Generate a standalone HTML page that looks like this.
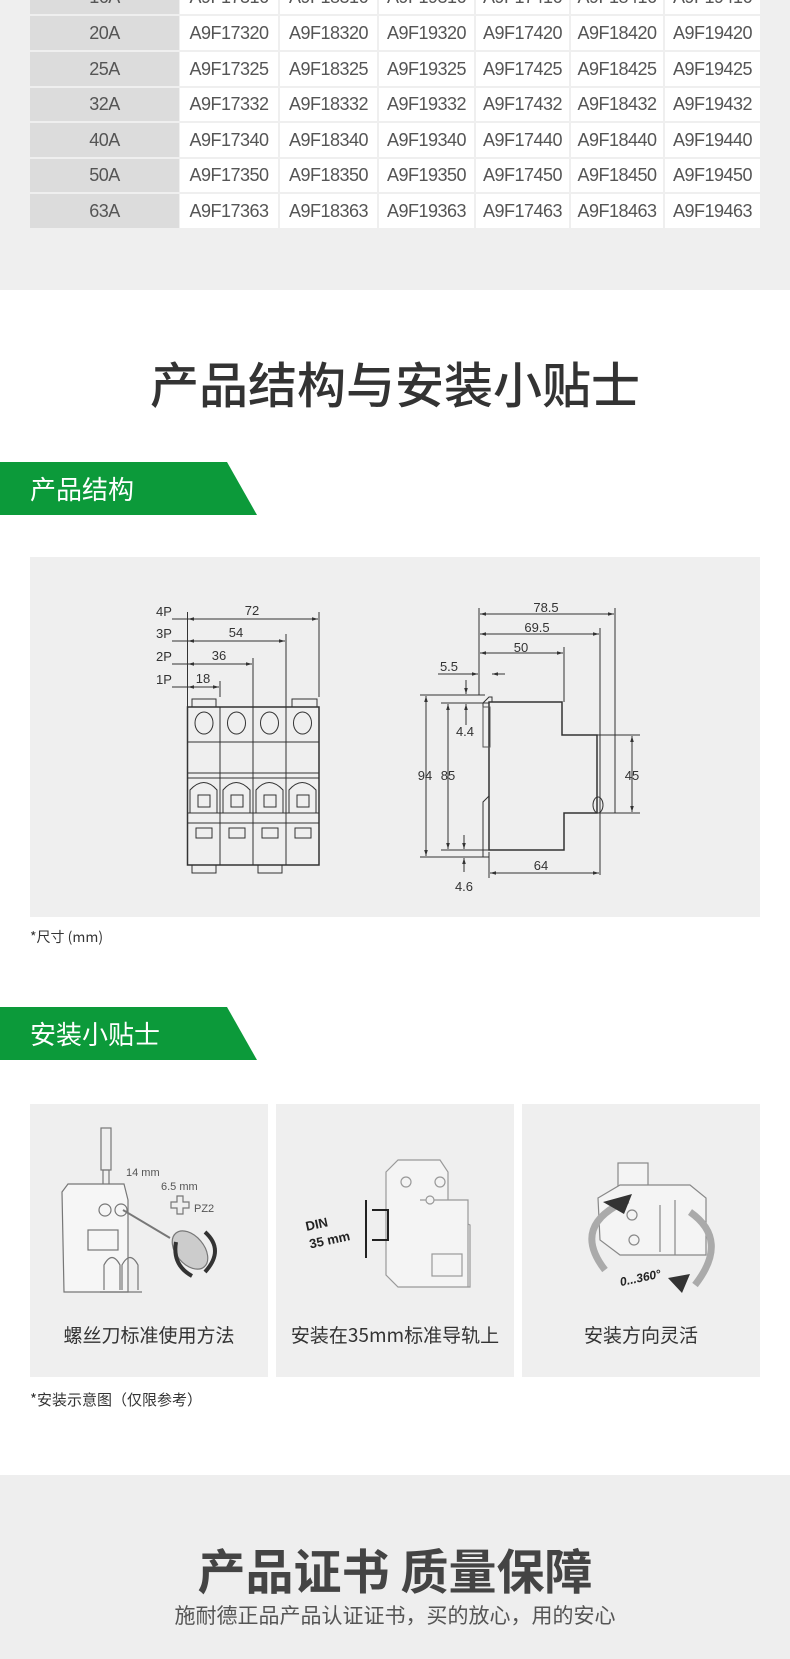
<!DOCTYPE html>
<html><head><meta charset="utf-8"><style>
*{margin:0;padding:0;box-sizing:border-box}
body{width:790px;height:1659px;position:relative;background:#fff;font-family:"Liberation Sans","Noto Sans CJK SC",sans-serif;overflow:hidden;color:#333}
.abs{position:absolute}
.top{left:0;top:0;width:790px;height:290px;background:#efefef}
.c{position:absolute;display:flex;align-items:center;justify-content:center;font-family:"Liberation Sans Narrow","Liberation Sans",sans-serif;font-size:18px;color:#555;letter-spacing:-0.5px}
.h{background:#dcdcdc}
.w{background:#fff}
.tab{position:absolute;left:0;width:257px;height:53px;background:#0c9a3a;clip-path:polygon(0 0,227px 0,257px 100%,0 100%);color:#fff;font-size:26px;line-height:53px;padding-left:30px;font-family:"Noto Sans CJK SC",sans-serif}
.card{position:absolute;top:1104px;width:238px;height:273px;background:#efefef}
.lbl{position:absolute;left:0;right:0;top:217px;text-align:center;font-size:19px;color:#333;font-family:"Noto Sans CJK SC",sans-serif}
</style></head><body>
<div class="abs top"></div>
<div class="c h" style="left:30px;top:-20px;width:149px;height:34px">16A</div>
<div class="c w" style="left:180px;top:-20px;width:98px;height:34px">A9F17316</div>
<div class="c w" style="left:280px;top:-20px;width:97px;height:34px">A9F18316</div>
<div class="c w" style="left:379px;top:-20px;width:95px;height:34px">A9F19316</div>
<div class="c w" style="left:476px;top:-20px;width:93px;height:34px">A9F17416</div>
<div class="c w" style="left:571px;top:-20px;width:92px;height:34px">A9F18416</div>
<div class="c w" style="left:665px;top:-20px;width:95px;height:34px">A9F19416</div>

<div class="c h" style="left:30px;top:16px;width:149px;height:34px">20A</div>
<div class="c w" style="left:180px;top:16px;width:98px;height:34px">A9F17320</div>
<div class="c w" style="left:280px;top:16px;width:97px;height:34px">A9F18320</div>
<div class="c w" style="left:379px;top:16px;width:95px;height:34px">A9F19320</div>
<div class="c w" style="left:476px;top:16px;width:93px;height:34px">A9F17420</div>
<div class="c w" style="left:571px;top:16px;width:92px;height:34px">A9F18420</div>
<div class="c w" style="left:665px;top:16px;width:95px;height:34px">A9F19420</div>

<div class="c h" style="left:30px;top:52px;width:149px;height:34px">25A</div>
<div class="c w" style="left:180px;top:52px;width:98px;height:34px">A9F17325</div>
<div class="c w" style="left:280px;top:52px;width:97px;height:34px">A9F18325</div>
<div class="c w" style="left:379px;top:52px;width:95px;height:34px">A9F19325</div>
<div class="c w" style="left:476px;top:52px;width:93px;height:34px">A9F17425</div>
<div class="c w" style="left:571px;top:52px;width:92px;height:34px">A9F18425</div>
<div class="c w" style="left:665px;top:52px;width:95px;height:34px">A9F19425</div>

<div class="c h" style="left:30px;top:88px;width:149px;height:33px">32A</div>
<div class="c w" style="left:180px;top:88px;width:98px;height:33px">A9F17332</div>
<div class="c w" style="left:280px;top:88px;width:97px;height:33px">A9F18332</div>
<div class="c w" style="left:379px;top:88px;width:95px;height:33px">A9F19332</div>
<div class="c w" style="left:476px;top:88px;width:93px;height:33px">A9F17432</div>
<div class="c w" style="left:571px;top:88px;width:92px;height:33px">A9F18432</div>
<div class="c w" style="left:665px;top:88px;width:95px;height:33px">A9F19432</div>

<div class="c h" style="left:30px;top:123px;width:149px;height:34px">40A</div>
<div class="c w" style="left:180px;top:123px;width:98px;height:34px">A9F17340</div>
<div class="c w" style="left:280px;top:123px;width:97px;height:34px">A9F18340</div>
<div class="c w" style="left:379px;top:123px;width:95px;height:34px">A9F19340</div>
<div class="c w" style="left:476px;top:123px;width:93px;height:34px">A9F17440</div>
<div class="c w" style="left:571px;top:123px;width:92px;height:34px">A9F18440</div>
<div class="c w" style="left:665px;top:123px;width:95px;height:34px">A9F19440</div>

<div class="c h" style="left:30px;top:159px;width:149px;height:33px">50A</div>
<div class="c w" style="left:180px;top:159px;width:98px;height:33px">A9F17350</div>
<div class="c w" style="left:280px;top:159px;width:97px;height:33px">A9F18350</div>
<div class="c w" style="left:379px;top:159px;width:95px;height:33px">A9F19350</div>
<div class="c w" style="left:476px;top:159px;width:93px;height:33px">A9F17450</div>
<div class="c w" style="left:571px;top:159px;width:92px;height:33px">A9F18450</div>
<div class="c w" style="left:665px;top:159px;width:95px;height:33px">A9F19450</div>

<div class="c h" style="left:30px;top:194px;width:149px;height:34px">63A</div>
<div class="c w" style="left:180px;top:194px;width:98px;height:34px">A9F17363</div>
<div class="c w" style="left:280px;top:194px;width:97px;height:34px">A9F18363</div>
<div class="c w" style="left:379px;top:194px;width:95px;height:34px">A9F19363</div>
<div class="c w" style="left:476px;top:194px;width:93px;height:34px">A9F17463</div>
<div class="c w" style="left:571px;top:194px;width:92px;height:34px">A9F18463</div>
<div class="c w" style="left:665px;top:194px;width:95px;height:34px">A9F19463</div>

<div class="abs" style="left:0;top:353px;width:790px;text-align:center;font-size:49px;color:#333;font-family:'Noto Sans CJK SC',sans-serif;line-height:60px;font-weight:500">产品结构与安装小贴士</div>

<div class="tab" style="top:462px">产品结构</div>
<div class="abs" style="left:30px;top:557px;width:730px;height:360px;background:#efefef"></div>
<div class="abs" style="left:30px;top:927px;font-size:14px;color:#333;font-family:'Noto Sans CJK SC',sans-serif">*尺寸 (mm)</div>

<div class="tab" style="top:1007px">安装小贴士</div>

<div class="card" style="left:30px"><div class="lbl">螺丝刀标准使用方法</div></div>
<div class="card" style="left:276px"><div class="lbl">安装在35mm标准导轨上</div></div>
<div class="card" style="left:522px"><div class="lbl">安装方向灵活</div></div>
<div class="abs" style="left:30px;top:1389px;font-size:15px;color:#333;font-family:'Noto Sans CJK SC',sans-serif">*安装示意图（仅限参考）</div>

<div class="abs" style="left:0;top:1475px;width:790px;height:184px;background:#eeeeee"></div>
<div class="abs" style="left:0;top:1538px;width:790px;text-align:center;font-size:48px;font-weight:bold;color:#444;font-family:'Noto Sans CJK SC',sans-serif;line-height:60px">产品证书 质量保障</div>
<div class="abs" style="left:0;top:1601px;width:790px;text-align:center;font-size:21px;color:#555;font-family:'Noto Sans CJK SC',sans-serif;line-height:28px">施耐德正品产品认证证书，买的放心，用的安心</div>

<svg class="abs" style="left:0;top:0" width="790" height="1659" viewBox="0 0 790 1659" font-family="Liberation Sans Narrow,Liberation Sans,sans-serif" fill="none" stroke="#333" stroke-width="1">
<defs><marker id="a" viewBox="0 0 10 10" refX="10" refY="5" markerWidth="6" markerHeight="6" orient="auto-start-reverse"><path d="M0,2 L10,5 L0,8z" fill="#333" stroke="none"/></marker></defs>
<!-- front view -->
<rect x="187.5" y="707" width="131.5" height="158" stroke-width="1.5"/>
<line x1="220" y1="707" x2="220" y2="865"/><line x1="253" y1="707" x2="253" y2="865"/><line x1="286" y1="707" x2="286" y2="865"/>
<line x1="187" y1="742" x2="319" y2="742"/><line x1="187" y1="773" x2="319" y2="773"/><line x1="187" y1="778" x2="319" y2="778"/>
<line x1="187" y1="813" x2="319" y2="813"/><line x1="187" y1="823" x2="319" y2="823"/>
<ellipse cx="204" cy="723" rx="9" ry="11"/><ellipse cx="236.5" cy="723" rx="9" ry="11"/><ellipse cx="269.5" cy="723" rx="9" ry="11"/><ellipse cx="302.5" cy="723" rx="9" ry="11"/>
<path d="M190,813 V790 Q204,775 217,790 V813 M223,813 V790 Q236,775 250,790 V813 M256,813 V790 Q269,775 283,790 V813 M289,813 V790 Q302,775 316,790 V813"/>
<rect x="196" y="828" width="16" height="10"/><rect x="229" y="828" width="16" height="10"/><rect x="262" y="828" width="16" height="10"/><rect x="295" y="828" width="16" height="10"/>
<rect x="198" y="795" width="12" height="12"/><rect x="231" y="795" width="12" height="12"/><rect x="264" y="795" width="12" height="12"/><rect x="297" y="795" width="12" height="12"/>
<path d="M192,707 V699 H216 V707 M292,707 V699 H317 V707 M192,865 V873 H216 V865 M258,865 V873 H282 V865"/>
<line x1="187.5" y1="612" x2="187.5" y2="707"/><line x1="319" y1="612" x2="319" y2="697"/><line x1="286" y1="634" x2="286" y2="707"/><line x1="253" y1="658" x2="253" y2="707"/><line x1="220" y1="681" x2="220" y2="697"/>
<line x1="172" y1="619" x2="187" y2="619"/><line x1="188" y1="619" x2="318" y2="619" marker-start="url(#a)" marker-end="url(#a)"/>
<line x1="172" y1="641" x2="187" y2="641"/><line x1="188" y1="641" x2="285" y2="641" marker-start="url(#a)" marker-end="url(#a)"/>
<line x1="172" y1="664" x2="187" y2="664"/><line x1="188" y1="664" x2="252" y2="664" marker-start="url(#a)" marker-end="url(#a)"/>
<line x1="172" y1="687" x2="187" y2="687"/><line x1="188" y1="687" x2="219" y2="687" marker-start="url(#a)" marker-end="url(#a)"/>
<g fill="#333" stroke="none" font-size="13">
<text x="156" y="616">4P</text><text x="156" y="638">3P</text><text x="156" y="661">2P</text><text x="156" y="684">1P</text>
<text x="252" y="615" text-anchor="middle">72</text><text x="236" y="637" text-anchor="middle">54</text><text x="219" y="660" text-anchor="middle">36</text><text x="203" y="683" text-anchor="middle">18</text>
</g>
<!-- side view -->
<path d="M489,702 H562 V735 H597 V813 H564 V850 H489 Z" stroke-width="1.5"/>
<path d="M483,857 V802 L489,796 M483,745 V703 L489,697 H492 V702" />
<rect x="483" y="707" width="7" height="40" stroke="#555"/>
<ellipse cx="598" cy="805" rx="5" ry="8"/>
<line x1="479" y1="608" x2="479" y2="695"/><line x1="615" y1="608" x2="615" y2="813"/><line x1="600" y1="628" x2="600" y2="875"/><line x1="564" y1="647" x2="564" y2="702"/>
<line x1="480" y1="614" x2="614" y2="614" marker-start="url(#a)" marker-end="url(#a)"/>
<line x1="480" y1="634" x2="599" y2="634" marker-start="url(#a)" marker-end="url(#a)"/>
<line x1="480" y1="653" x2="563" y2="653" marker-start="url(#a)" marker-end="url(#a)"/>
<line x1="438" y1="674" x2="478" y2="674" marker-end="url(#a)"/><line x1="505" y1="674" x2="492" y2="674" marker-end="url(#a)"/>
<line x1="420" y1="695" x2="485" y2="695"/><line x1="441" y1="703" x2="489" y2="703"/>
<line x1="420" y1="857" x2="489" y2="857"/><line x1="441" y1="850" x2="489" y2="850"/>
<line x1="426" y1="696" x2="426" y2="856" marker-start="url(#a)" marker-end="url(#a)"/>
<line x1="448" y1="704" x2="448" y2="849" marker-start="url(#a)" marker-end="url(#a)"/>
<line x1="466" y1="680" x2="466" y2="694" marker-end="url(#a)"/><line x1="466" y1="725" x2="466" y2="704" marker-end="url(#a)"/>
<line x1="464" y1="835" x2="464" y2="849" marker-end="url(#a)"/><line x1="464" y1="872" x2="464" y2="858" marker-end="url(#a)"/>
<line x1="597" y1="735" x2="640" y2="735"/><line x1="597" y1="813" x2="640" y2="813"/>
<line x1="632" y1="736" x2="632" y2="812" marker-start="url(#a)" marker-end="url(#a)"/>
<line x1="489" y1="852" x2="489" y2="878"/>
<line x1="490" y1="873" x2="599" y2="873" marker-start="url(#a)" marker-end="url(#a)"/>
<g fill="#333" stroke="none" font-size="13">
<text x="546" y="612" text-anchor="middle">78.5</text><text x="537" y="632" text-anchor="middle">69.5</text><text x="521" y="652" text-anchor="middle">50</text>
<text x="449" y="671" text-anchor="middle">5.5</text><text x="465" y="736" text-anchor="middle">4.4</text><text x="464" y="891" text-anchor="middle">4.6</text>
<text x="425" y="780" text-anchor="middle">94</text><text x="448" y="780" text-anchor="middle">85</text><text x="632" y="780" text-anchor="middle">45</text><text x="541" y="870" text-anchor="middle">64</text>
</g>
<!-- card 1 icon -->
<g stroke="#777" stroke-width="1.2">
<rect x="101" y="1128" width="10" height="42"/><rect x="103" y="1170" width="6" height="18"/>
<path d="M62,1192 L68,1184 H124 L128,1200 V1292 H64 Z" fill="#f6f6f6"/>
<circle cx="105" cy="1210" r="6"/><circle cx="121" cy="1210" r="6"/>
<rect x="88" y="1230" width="30" height="20"/>
<path d="M104,1290 V1265 Q112,1250 120,1265 V1290 M122,1290 V1265 Q130,1250 138,1265 V1290 M100,1292 h42"/>
<line x1="123" y1="1210" x2="170" y2="1238" stroke-width="2"/>
<ellipse cx="190" cy="1250" rx="14" ry="22" transform="rotate(-40 190 1250)" fill="#ccc"/>
<path d="M205,1232 Q225,1250 205,1272 M176,1242 Q172,1265 192,1276" stroke="#333" stroke-width="4"/>
<path d="M177,1196 v6 h-6 v6 h6 v6 h6 v-6 h6 v-6 h-6 v-6z"/>
</g>
<g fill="#555" stroke="none" font-size="11" font-family="Liberation Sans,sans-serif"><text x="126" y="1176">14 mm</text><text x="161" y="1190">6.5 mm</text><text x="196" y="1272" dx="-2" dy="-60">PZ2</text></g>
<!-- card 2 icon -->
<g stroke="#999" stroke-width="1.2" fill="#f4f4f4">
<path d="M386,1172 L398,1160 H440 L448,1172 V1215 L470,1225 V1287 H398 L386,1275 Z"/>
<path d="M420,1200 H468 V1287"/><circle cx="406" cy="1182" r="5"/><circle cx="440" cy="1182" r="5"/>
<circle cx="430" cy="1200" r="4"/>
<rect x="432" y="1254" width="30" height="22"/>
</g>
<path d="M372,1210 H388 V1240 H372 M366,1200 v58" stroke="#222" stroke-width="2" fill="none"/>
<g fill="#222" stroke="none" font-size="13" font-weight="bold" font-family="Liberation Sans,sans-serif" transform="rotate(-12 330 1230)"><text x="307" y="1226">DIN</text><text x="307" y="1244">35 mm</text></g>
<!-- card 3 icon -->
<g stroke="#888" stroke-width="1.2" fill="#f4f4f4">
<rect x="618" y="1163" width="30" height="32"/>
<path d="M598,1198 L620,1185 H690 L706,1198 V1255 H620 L600,1240 Z"/>
<circle cx="632" cy="1215" r="5"/><circle cx="634" cy="1240" r="5"/>
<path d="M660,1205 V1252 M675,1200 V1255"/>
</g>
<path d="M628,1200 Q570,1225 605,1270 M690,1212 Q730,1240 695,1285" stroke="#aaa" stroke-width="7" fill="none"/>
<path d="M603,1202 L632,1194 L624,1214Z M682,1293 L668,1278 L690,1274Z" fill="#333" stroke="none"/>
<text x="620" y="1282" fill="#222" stroke="none" font-size="12" font-weight="bold" font-style="italic" font-family="Liberation Sans,sans-serif" transform="rotate(-12 640 1280)">0...360°</text>
</svg>
</body></html>
